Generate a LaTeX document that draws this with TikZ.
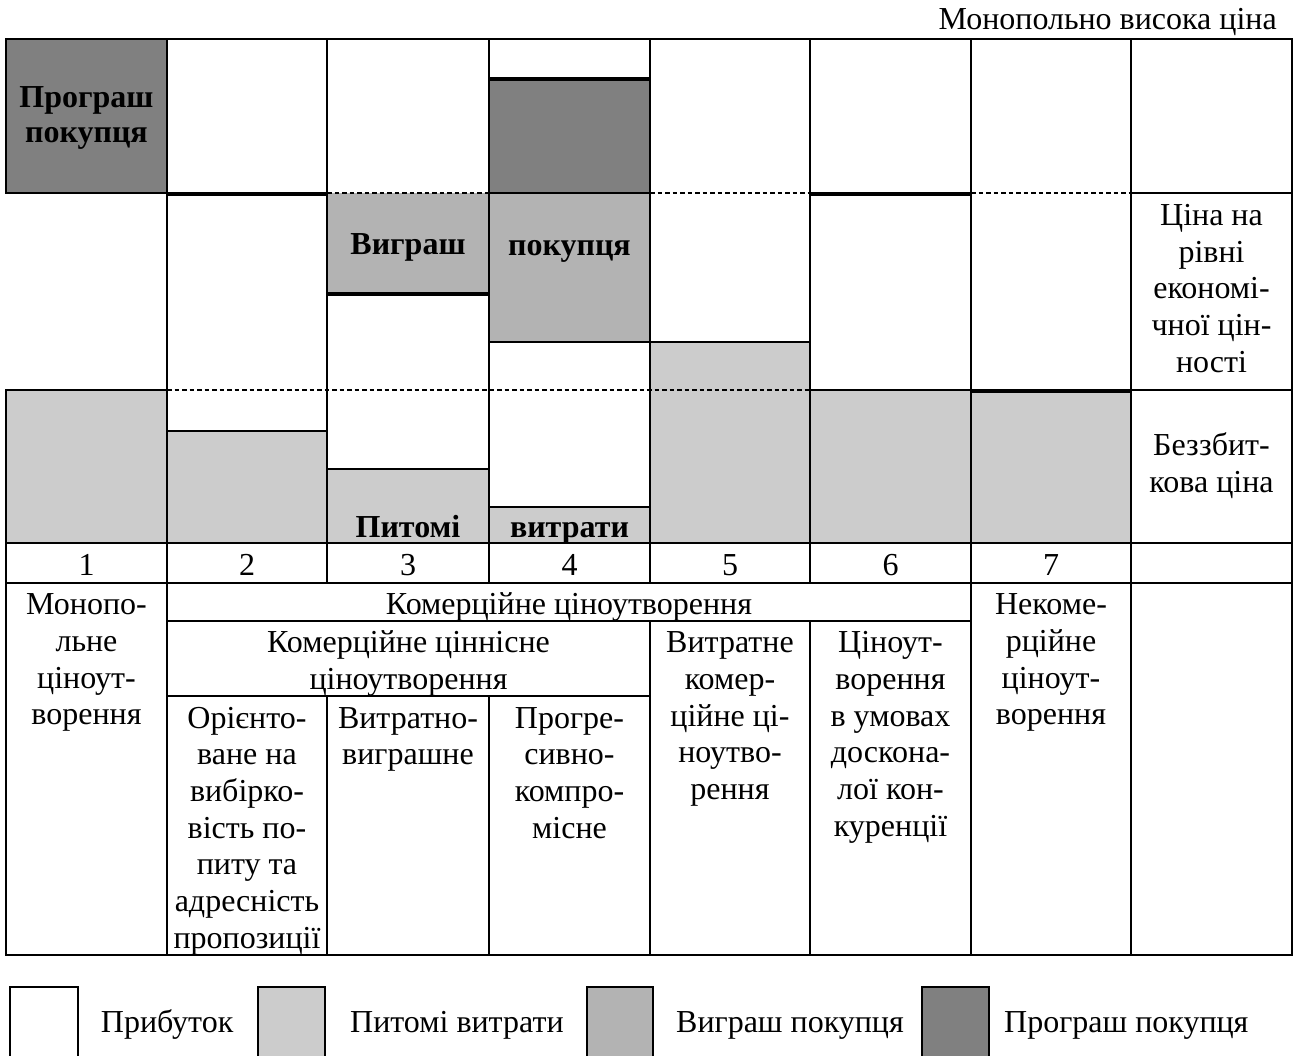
\documentclass[tikz,border=0pt]{standalone}
\usepackage{fontspec}
\setmainfont{Liberation Serif}
\definecolor{lossgray}{HTML}{808080}
\definecolor{wingray}{HTML}{B3B3B3}
\definecolor{costgray}{HTML}{CCCCCC}
\begin{document}
\begin{tikzpicture}[x=1pt,y=-1pt,
  tl/.style={line width=1.5pt,line cap=rect},
  tk/.style={line width=3.6pt},
  dl/.style={line width=1.3pt,dash pattern=on 4.5pt off 3pt},
  lg/.style={line width=2pt},
  utxt/.style={inner sep=0pt,align=center,font=\fontsize{32}{36.6}\selectfont},
  btxt/.style={inner sep=0pt,align=center,font=\bfseries\fontsize{32}{35}\selectfont},
  ltxt/.style={inner sep=0pt,align=center,anchor=north,font=\fontsize{32}{36.7}\selectfont},
  num/.style={inner sep=0pt,anchor=base,font=\fontsize{32}{36.6}\selectfont}]
\useasboundingbox (0,0) rectangle (1293,1056);

% ---- fills of the upper chart
\fill[lossgray] (6,39) rectangle (167,193);
\fill[lossgray] (489,78) rectangle (650,193);
\fill[wingray] (327,193) rectangle (489,293);
\fill[wingray] (489,193) rectangle (650,342);
\fill[costgray] (6,390) rectangle (167,543);
\fill[costgray] (167,431) rectangle (327,543);
\fill[costgray] (327,469) rectangle (489,543);
\fill[costgray] (489,507) rectangle (650,543);
\fill[costgray] (650,342) rectangle (810,543);
\fill[costgray] (810,390) rectangle (971,543);
\fill[costgray] (971,390) rectangle (1131,543);

% ---- vertical lines
\draw[tl] (6,39) -- (6,193);
\draw[tl] (6,390) -- (6,955);
\draw[tl] (167,39) -- (167,955);
\draw[tl] (327,39) -- (327,583);
\draw[tl] (327,696) -- (327,955);
\draw[tl] (489,39) -- (489,583);
\draw[tl] (489,696) -- (489,955);
\draw[tl] (650,39) -- (650,583);
\draw[tl] (650,621) -- (650,955);
\draw[tl] (810,39) -- (810,583);
\draw[tl] (810,621) -- (810,955);
\draw[tl] (971,39) -- (971,955);
\draw[tl] (1131,39) -- (1131,955);
\draw[tl] (1292,39) -- (1292,955);

% ---- horizontal lines
\draw[tl] (6,39) -- (1292,39);
\draw[tk] (489,79) -- (650,79);
\draw[tl] (6,193) -- (167,193);
\draw[tk] (167,194) -- (327,194);
\draw[dl] (327,193) -- (489,193);
\draw[tl] (489,193) -- (650,193);
\draw[dl] (650,193) -- (810,193);
\draw[tk] (810,194) -- (971,194);
\draw[dl] (971,193) -- (1131,193);
\draw[tl] (1131,193) -- (1292,193);
\draw[tk] (327,294) -- (489,294);
\draw[tl] (489,342) -- (810,342);
\draw[tl] (6,390) -- (167,390);
\draw[dl] (167,390) -- (810,390);
\draw[tl] (810,390) -- (971,390);
\draw[tk] (971,391) -- (1131,391);
\draw[tl] (1131,390) -- (1292,390);
\draw[tl] (167,431) -- (327,431);
\draw[tl] (327,469) -- (489,469);
\draw[tl] (489,507) -- (650,507);
\draw[tl] (6,543) -- (1292,543);
\draw[tl] (6,583) -- (1292,583);
\draw[tl] (167,621) -- (971,621);
\draw[tl] (167,696) -- (650,696);
\draw[tl] (6,955) -- (1292,955);

% ---- title
\node[utxt,anchor=base east] (title) at (1277,30) {Монопольно висока ціна};

% ---- labels inside the chart
\node[btxt,anchor=north] (lossA) at (86.5,82.5) {\strut Програш\\покупця};
\node[btxt,anchor=base] (winA) at (408,255) {Виграш};
\node[btxt,anchor=base] (winB) at (569.5,256) {покупця};
\node[btxt,anchor=base] (costA) at (408,537) {Питомі};
\node[btxt,anchor=base] (costB) at (569.5,537) {витрати};
\node[utxt] (econ) at (1211.5,291.5) {\strut Ціна на\\рівні\\економі-\\чної цін-\\ності\strut};
\node[utxt] (breakeven) at (1211.5,466.5) {\strut Беззбит-\\кова ціна\strut};

% ---- numbers
\node[num] (n1) at (86.5,575) {1};
\node[num] (n2) at (247,575) {2};
\node[num] (n3) at (408,575) {3};
\node[num] (n4) at (569.5,575) {4};
\node[num] (n5) at (730,575) {5};
\node[num] (n6) at (890.5,575) {6};
\node[num] (n7) at (1051,575) {7};

% ---- lower table
\node[ltxt] (mono) at (86.5,588.8) {\strut Монопо-\\льне\\ціноут-\\ворення};
\node[ltxt] (comm) at (569,588.8) {\strut Комерційне ціноутворення};
\node[ltxt] (commval) at (408.5,626.8) {\strut Комерційне ціннісне\\ціноутворення};
\node[ltxt] (orient) at (247,702.3) {\strut Орієнто-\\ване на\\вибірко-\\вість по-\\питу та\\адресність\\пропозиції};
\node[ltxt] (costwin) at (408,702.3) {\strut Витратно-\\виграшне};
\node[ltxt] (progr) at (569.5,702.3) {\strut Прогре-\\сивно-\\компро-\\місне};
\node[ltxt] (costcomm) at (730,626.8) {\strut Витратне\\комер-\\ційне ці-\\ноутво-\\рення};
\node[ltxt] (perfect) at (890.5,626.8) {\strut Ціноут-\\ворення\\в умовах\\доскона-\\лої кон-\\куренції};
\node[ltxt] (noncomm) at (1051,588.8) {\strut Некоме-\\рційне\\ціноут-\\ворення};

% ---- legend
\fill[white] (9.5,987) rectangle (77.5,1056);
\draw[lg] (9.5,1056) -- (9.5,987) -- (77.5,987) -- (77.5,1056);
\node[num,anchor=base west] (legA) at (100.7,1032) {Прибуток};
\fill[costgray] (258,987) rectangle (325,1056);
\draw[lg] (258,1056) -- (258,987) -- (325,987) -- (325,1056);
\node[num,anchor=base west] (legB) at (350,1032) {Питомі витрати};
\fill[wingray] (587,987) rectangle (653,1056);
\draw[lg] (587,1056) -- (587,987) -- (653,987) -- (653,1056);
\node[num,anchor=base west] (legC) at (676,1032) {Виграш покупця};
\fill[lossgray] (922,987) rectangle (989,1056);
\draw[lg] (922,1056) -- (922,987) -- (989,987) -- (989,1056);
\node[num,anchor=base west] (legD) at (1004,1032) {Програш покупця};
\end{tikzpicture}
\end{document}
